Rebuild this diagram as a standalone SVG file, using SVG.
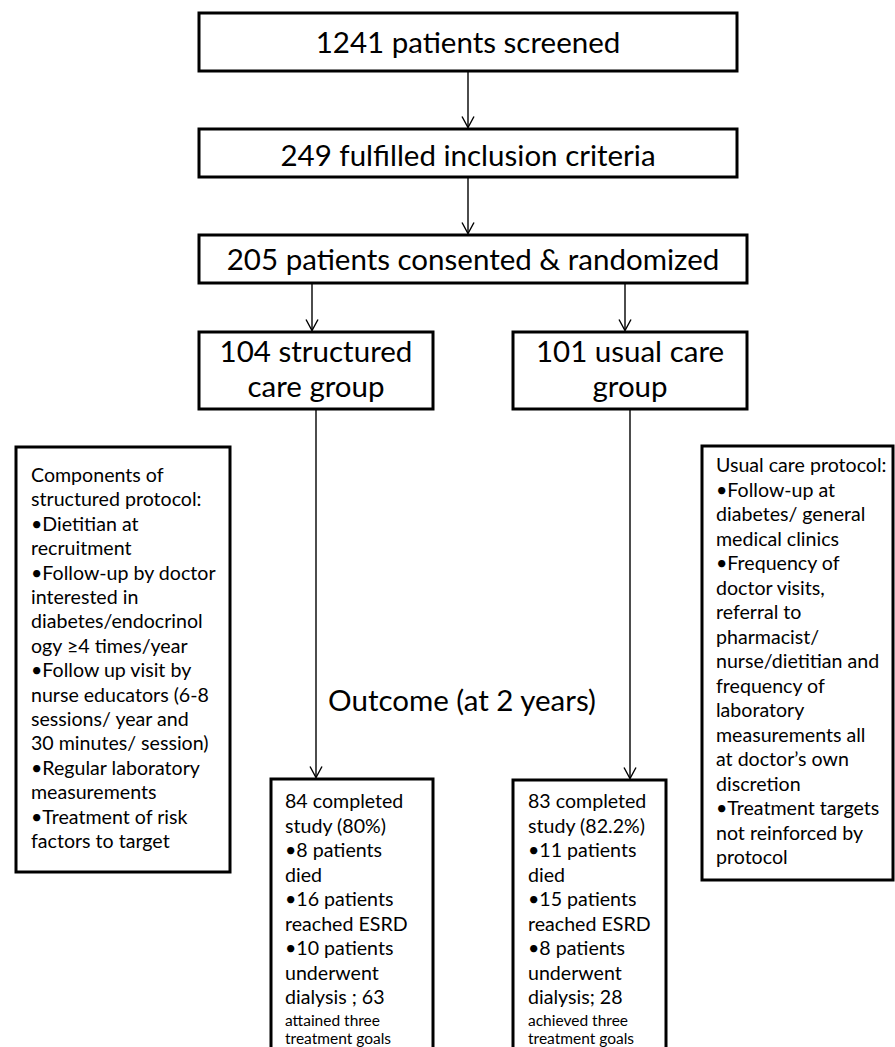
<svg xmlns="http://www.w3.org/2000/svg" width="895" height="1047" viewBox="0 0 895 1047">
<style>
  text { font-family: Lato, "Liberation Sans", sans-serif; fill: #000; }
  .box { fill: #fff; stroke: #000; stroke-width: 3; }
  .big { font-size: 29.5px; text-anchor: middle; }
  .mid { font-size: 19.6px; }
  .small { font-size: 15.5px; }
  .conn { stroke: #000; stroke-width: 1.4; fill: none; }
</style>
<defs>
  <marker id="arr" markerUnits="userSpaceOnUse" viewBox="-13 -8 14 16" markerWidth="14" markerHeight="16" refX="0" refY="0" orient="auto" overflow="visible">
    <path d="M-11,-6 L0,0 L-11,6" fill="none" stroke="#000" stroke-width="1.4"/>
  </marker>
</defs>
<rect width="895" height="1047" fill="#fff"/>

<g id="connectors">
  <line class="conn" x1="468" y1="71" x2="468" y2="127.5" marker-end="url(#arr)"/>
  <line class="conn" x1="468" y1="177" x2="468" y2="233.5" marker-end="url(#arr)"/>
  <line class="conn" x1="312" y1="283" x2="312" y2="330.5" marker-end="url(#arr)"/>
  <line class="conn" x1="625" y1="283" x2="625" y2="330.5" marker-end="url(#arr)"/>
  <line class="conn" x1="316" y1="409" x2="316" y2="777.5" marker-end="url(#arr)"/>
  <line class="conn" x1="630" y1="409" x2="630" y2="778.5" marker-end="url(#arr)"/>
</g>

<g id="screened">
  <rect class="box" x="199" y="13" width="538" height="58"/>
  <text class="big" x="468" y="53">1241 patients screened</text>
</g>
<g id="inclusion">
  <rect class="box" x="199" y="129" width="538" height="48"/>
  <text class="big" x="468" y="166">249 fulfilled inclusion criteria</text>
</g>
<g id="randomized">
  <rect class="box" x="199" y="235" width="548" height="48"/>
  <text class="big" x="473" y="270">205 patients consented &amp; randomized</text>
</g>
<g id="structured">
  <rect class="box" x="199" y="332" width="234" height="77"/>
  <text class="big" x="316" y="362">104 structured</text>
  <text class="big" x="316" y="397">care group</text>
</g>
<g id="usual">
  <rect class="box" x="513" y="332" width="234" height="77"/>
  <text class="big" x="630" y="362">101 usual care</text>
  <text class="big" x="630" y="397">group</text>
</g>

<g id="structured-protocol">
  <rect class="box" x="16" y="447" width="214" height="425"/>
  <text class="mid">
    <tspan x="31" y="482">Components of</tspan>
    <tspan x="31" y="506.4">structured protocol:</tspan>
    <tspan x="31" y="530.8">•Dietitian at</tspan>
    <tspan x="31" y="555.2">recruitment</tspan>
    <tspan x="31" y="579.6">•Follow-up by doctor</tspan>
    <tspan x="31" y="604">interested in</tspan>
    <tspan x="31" y="628.4">diabetes/endocrinol</tspan>
    <tspan x="31" y="652.8">ogy ≥4 times/year</tspan>
    <tspan x="31" y="677.2">•Follow up visit by</tspan>
    <tspan x="31" y="701.6">nurse educators (6-8</tspan>
    <tspan x="31" y="726">sessions/ year and</tspan>
    <tspan x="31" y="750.4">30 minutes/ session)</tspan>
    <tspan x="31" y="774.8">•Regular laboratory</tspan>
    <tspan x="31" y="799.2">measurements</tspan>
    <tspan x="31" y="823.6">•Treatment of risk</tspan>
    <tspan x="31" y="848">factors to target</tspan>
  </text>
</g>

<g id="usual-protocol">
  <rect class="box" x="702" y="446" width="191" height="434"/>
  <text class="mid">
    <tspan x="716" y="472">Usual care protocol:</tspan>
    <tspan x="716" y="496.5">•Follow-up at</tspan>
    <tspan x="716" y="521">diabetes/ general</tspan>
    <tspan x="716" y="545.5">medical clinics</tspan>
    <tspan x="716" y="570">•Frequency of</tspan>
    <tspan x="716" y="594.5">doctor visits,</tspan>
    <tspan x="716" y="619">referral to</tspan>
    <tspan x="716" y="643.5">pharmacist/</tspan>
    <tspan x="716" y="668">nurse/dietitian and</tspan>
    <tspan x="716" y="692.5">frequency of</tspan>
    <tspan x="716" y="717">laboratory</tspan>
    <tspan x="716" y="741.5">measurements all</tspan>
    <tspan x="716" y="766">at doctor’s own</tspan>
    <tspan x="716" y="790.5">discretion</tspan>
    <tspan x="716" y="815">•Treatment targets</tspan>
    <tspan x="716" y="839.5">not reinforced by</tspan>
    <tspan x="716" y="864">protocol</tspan>
  </text>
</g>

<g id="outcome-label">
  <text class="big" x="462" y="711">Outcome (at 2 years)</text>
</g>

<g id="structured-outcome">
  <rect class="box" x="271" y="779" width="162" height="300"/>
  <text class="mid">
    <tspan x="285" y="808">84 completed</tspan>
    <tspan x="285" y="832.5">study (80%)</tspan>
    <tspan x="285" y="857">•8 patients</tspan>
    <tspan x="285" y="881.5">died</tspan>
    <tspan x="285" y="906">•16 patients</tspan>
    <tspan x="285" y="930.5">reached ESRD</tspan>
    <tspan x="285" y="955">•10 patients</tspan>
    <tspan x="285" y="979.5">underwent</tspan>
    <tspan x="285" y="1004">dialysis ; 63</tspan>
  </text>
  <text class="small">
    <tspan x="285" y="1025.5">attained three</tspan>
    <tspan x="285" y="1044">treatment goals</tspan>
  </text>
</g>

<g id="usual-outcome">
  <rect class="box" x="513" y="780" width="153" height="300"/>
  <text class="mid">
    <tspan x="528" y="808">83 completed</tspan>
    <tspan x="528" y="832.5">study (82.2%)</tspan>
    <tspan x="528" y="857">•11 patients</tspan>
    <tspan x="528" y="881.5">died</tspan>
    <tspan x="528" y="906">•15 patients</tspan>
    <tspan x="528" y="930.5">reached ESRD</tspan>
    <tspan x="528" y="955">•8 patients</tspan>
    <tspan x="528" y="979.5">underwent</tspan>
    <tspan x="528" y="1004">dialysis; 28</tspan>
  </text>
  <text class="small">
    <tspan x="528" y="1025.5">achieved three</tspan>
    <tspan x="528" y="1044">treatment goals</tspan>
  </text>
</g>
</svg>
